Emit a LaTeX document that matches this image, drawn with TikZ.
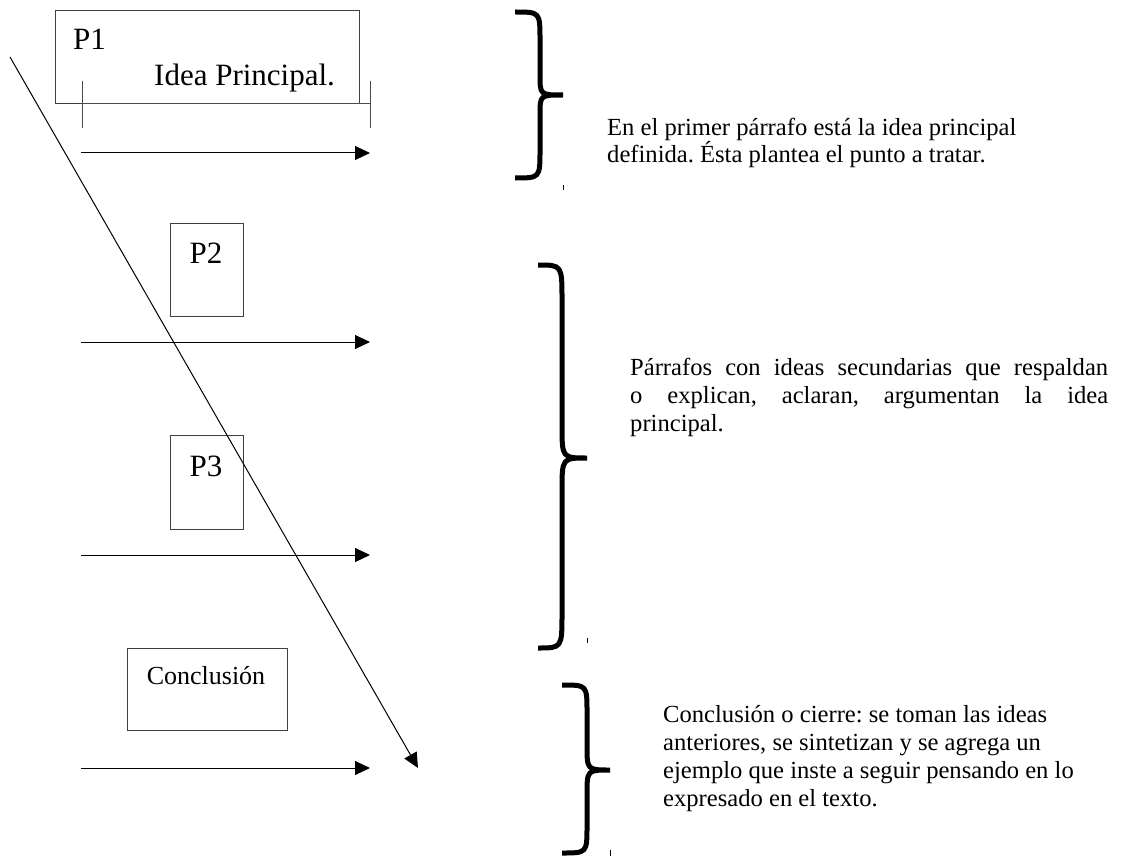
\documentclass[tikz,border=0pt]{standalone}
\usepackage{fontspec}
\setmainfont{Liberation Serif}
\usetikzlibrary{arrows.meta}
\frenchspacing
\begin{document}
\begin{tikzpicture}[x=1pt,y=-1pt,
  box/.style={draw=black!75, line width=1pt, inner sep=0pt, anchor=north west},
  lbl/.style={inner sep=0pt, font=\fontsize{31}{36}\selectfont},
  note/.style={inner sep=0pt, anchor=base west, align=left, font=\fontsize{24.6}{28}\selectfont},
  flow/.style={line width=1pt, -{Triangle[length=15pt,width=14pt]}},
  brace/.style={line width=5pt},
  tickmark/.style={line width=0.8pt},
  dim/.style={draw=black!70, line width=1pt}]
\useasboundingbox (0,0) rectangle (1127,856);

% boxes
\node[box, minimum width=304pt, minimum height=93pt] (p1) at (55,10) {};
\node[box, minimum width=73pt, minimum height=93pt] (p2) at (170,223) {};
\node[box, minimum width=73pt, minimum height=94pt] (p3) at (170,435) {};
\node[box, minimum width=160pt, minimum height=82pt] (pc) at (127,648) {};

% labels
\node[lbl, anchor=base west] (l1) at (73,50) {P1};
\node[lbl, anchor=base west] (l1b) at (154,86) {Idea Principal.};
\node[lbl, anchor=base] (l2) at (206,263) {P2};
\node[lbl, anchor=base] (l3) at (206,476) {P3};
\node[inner sep=0pt, anchor=base, font=\fontsize{26}{30}\selectfont] (lc) at (206,684) {Conclusión};

% dimension line under P1
\coordinate (da) at (82,104); \coordinate (db) at (370,104);
\coordinate (da1) at (82,81); \coordinate (da2) at (82,128);
\coordinate (db1) at (370,81); \coordinate (db2) at (370,128);
\draw[dim] (da) -- (db);
\draw[dim] (da1) -- (da2);
\draw[dim] (db1) -- (db2);

% horizontal arrows
\foreach \y/\n in {153/a, 342/b, 555/c, 768/d}{
  \coordinate (s\n) at (81,\y);
  \coordinate (e\n) at (370,\y);
  \draw[flow] (s\n) -- (e\n);
}

% diagonal arrow
\coordinate (ds) at (10,57);
\coordinate (de) at (418,768);
\draw[flow] (ds) -- (de);

% braces
\draw[brace] (515,12) .. controls (540,12) .. (540,40) -- (540,75)
  .. controls (540,95) .. (563,95) .. controls (540,95) .. (540,115)
  -- (540,150) .. controls (540,178) .. (515,178);
\draw[brace] (538,265) .. controls (562,265) .. (562,300) -- (562,425)
  .. controls (562,458) .. (587,458) .. controls (562,458) .. (562,491)
  -- (562,613) .. controls (562,648) .. (538,648);
\draw[brace] (562,685) .. controls (587,685) .. (587,712) -- (587,745)
  .. controls (587,770) .. (610,770) .. controls (587,770) .. (587,795)
  -- (587,826) .. controls (587,853) .. (562,853);

% small marks
\coordinate (t1a) at (563,185); \coordinate (t1b) at (563,190);
\coordinate (t2a) at (587,638); \coordinate (t2b) at (587,643);
\coordinate (t3a) at (610,850); \coordinate (t3b) at (610,856);
\draw[tickmark] (t1a) -- (t1b);
\draw[tickmark] (t2a) -- (t2b);
\draw[tickmark] (t3a) -- (t3b);

% notes (base anchor = baseline of last line)
\node[note] (n1) at (607,163) {En el primer párrafo está la idea principal\\definida. Ésta plantea el punto a tratar.};
\node[note] (n2) at (630,431) {\makebox[478pt][s]{Párrafos con ideas secundarias que respaldan}\\\makebox[478pt][s]{o explican, aclaran, argumentan la idea}\\principal.};
\node[note] (n3) at (663,806) {Conclusión o cierre: se toman las ideas\\anteriores, se sintetizan y se agrega un\\ejemplo que inste a seguir pensando en lo\\expresado en el texto.};
\end{tikzpicture}
\end{document}
